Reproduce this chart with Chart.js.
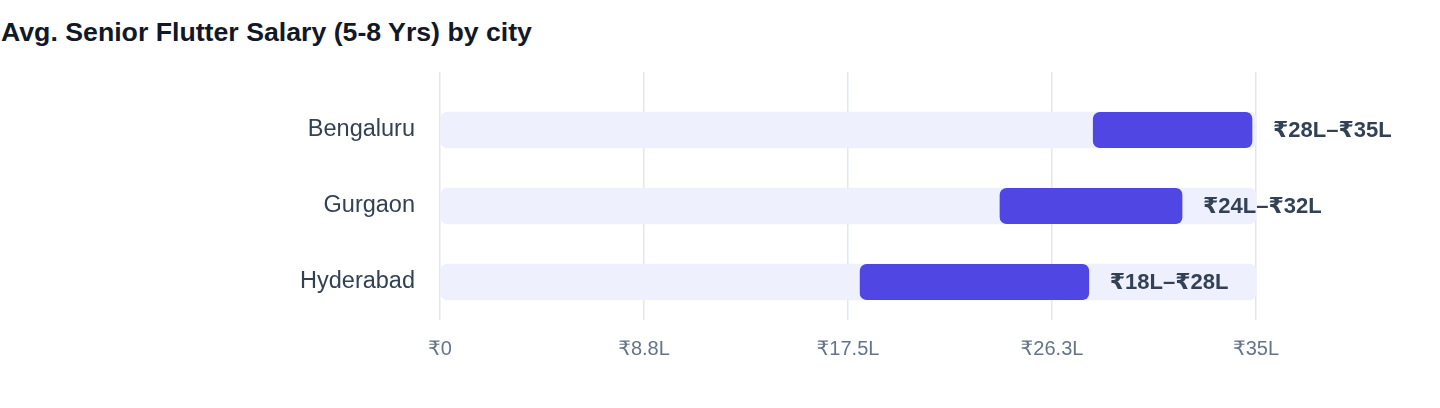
<!DOCTYPE html>
<html>
<head>
<meta charset="utf-8">
<script src="https://cdn.jsdelivr.net/npm/chart.js@4.4.1/dist/chart.umd.min.js"></script>
<style>
  html, body { margin: 0; padding: 0; background: #fff; }
  #wrap { position: relative; width: 1440px; height: 408px; }
  #title {
    position: absolute; left: 1px; top: 19px;
    font: bold 26.7px/1 "Liberation Sans", "DejaVu Sans", sans-serif;
    color: #111827; white-space: nowrap;
  }
  canvas { position: absolute; left: 0; top: 0; }
</style>
</head>
<body>
<div id="wrap">
  <div id="title">Avg. Senior Flutter Salary (5-8 Yrs) by city</div>
  <canvas id="chart" width="1440" height="408"></canvas>
</div>
<script>
const cities = ['Bengaluru', 'Gurgaon', 'Hyderabad'];
const lowL = [28, 24, 18];
const highL = [35, 32, 28];
const axisMax = 35;
const axisStep = 8.75;

const FONT = '"Liberation Sans", "DejaVu Sans", sans-serif';

const ranges = cities.map((c, i) => [lowL[i], highL[i]]);
const tracks = cities.map(() => [0, axisMax]);
const rangeText = cities.map((c, i) => `₹${lowL[i]}L–₹${highL[i]}L`);

const fmt = v => v === 0 ? '₹0' : '₹' + (Math.round(v * 10) / 10) + 'L';

// text after the end of each range bar
const rangeLabels = {
    id: 'rangeLabels',
    afterDatasetsDraw(chart) {
        const ctx = chart.ctx;
        const meta = chart.getDatasetMeta(0);
        ctx.save();
        ctx.font = 'bold 22px ' + FONT;
        ctx.fillStyle = '#334155';
        ctx.textBaseline = 'middle';
        ctx.textAlign = 'left';
        meta.data.forEach((bar, i) => {
            ctx.fillText(rangeText[i], bar.x + 17, bar.y + 1);
        });
        ctx.restore();
    }
};

new Chart(document.getElementById('chart'), {
    type: 'bar',
    data: {
        labels: cities,
        datasets: [
            {
                label: 'Range',
                data: ranges,
                backgroundColor: '#5046e4',
                borderColor: 'rgba(0,0,0,0)',
                borderWidth: { top: 0, bottom: 0, left: 0, right: 4 },
                borderRadius: { topLeft: 7, bottomLeft: 7, topRight: 11, bottomRight: 11 },
                order: 0
            },
            {
                label: 'Track',
                data: tracks,
                backgroundColor: '#eef1fd',
                order: 1
            }
        ]
    },
    options: {
        indexAxis: 'y',
        responsive: false,
        animation: false,
        datasets: {
            bar: { grouped: false, barThickness: 36, borderRadius: 7, borderSkipped: false }
        },
        layout: { padding: { top: 72, right: 184, left: 0, bottom: 0 } },
        plugins: {
            legend: { display: false },
            tooltip: { enabled: false }
        },
        scales: {
            x: {
                position: 'bottom',
                min: 0, max: axisMax,
                grid: { color: '#e2e6ef', lineWidth: 1.5, drawTicks: false },
                border: { display: false },
                ticks: {
                    stepSize: axisStep,
                    padding: 17,
                    color: '#64748b',
                    font: { family: FONT, size: 20 },
                    callback: fmt
                },
                afterFit: s => { s.height = 88; }
            },
            x2: {
                position: 'top',
                min: 0, max: axisMax,
                grid: { color: '#e2e6ef', lineWidth: 1.5, drawOnChartArea: false, tickLength: 20 },
                border: { display: false },
                ticks: { stepSize: axisStep, display: false },
                afterFit: s => { s.height = 20; }
            },
            y: {
                grid: { display: false, drawTicks: false },
                border: { display: false },
                ticks: {
                    padding: 25,
                    color: '#334155',
                    font: { family: FONT, size: 23.5 }
                },
                afterFit: s => { s.width = 440; }
            }
        }
    },
    plugins: [rangeLabels]
});
</script>
</body>
</html>
